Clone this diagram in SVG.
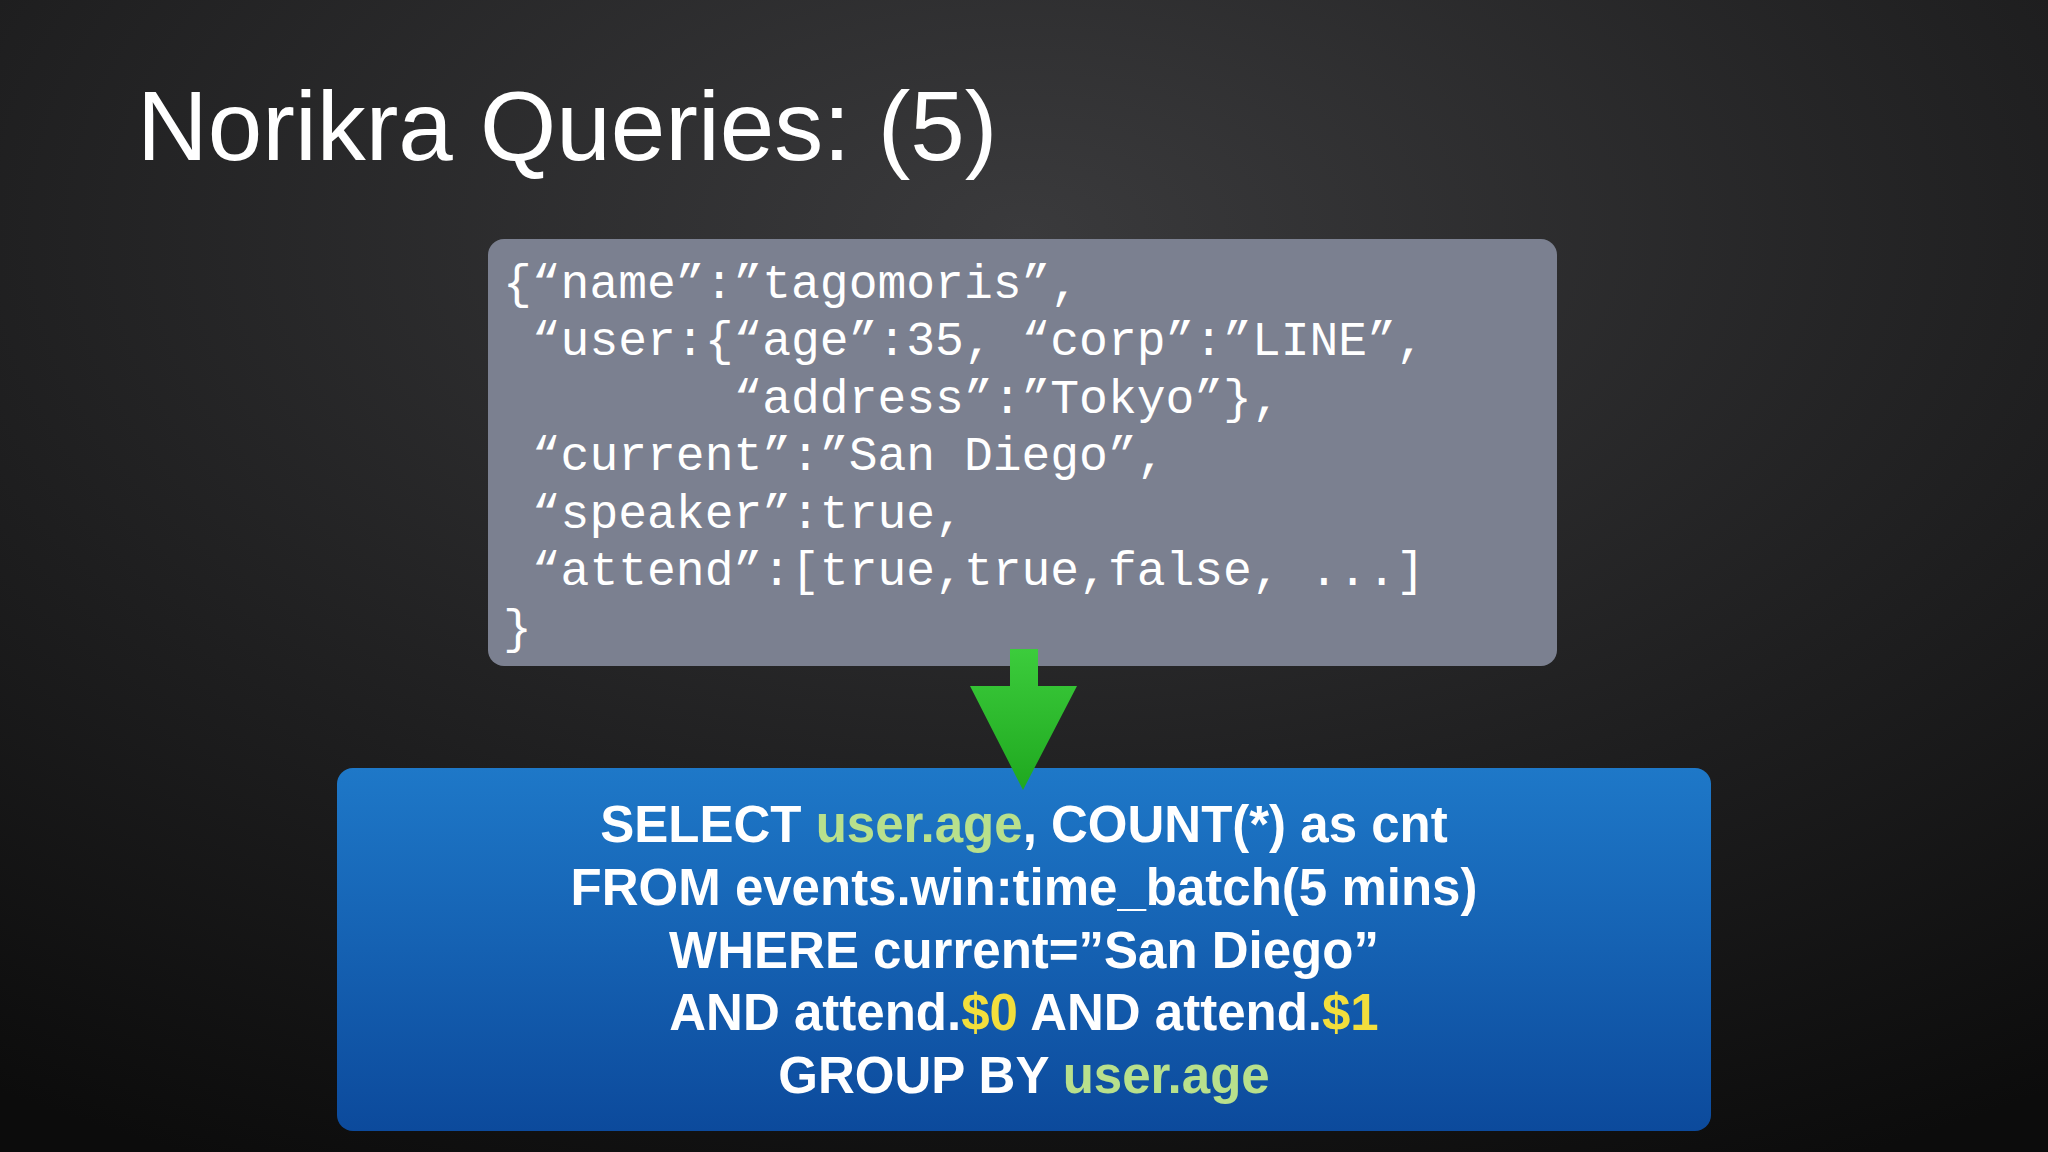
<svg xmlns="http://www.w3.org/2000/svg" width="2048" height="1152" viewBox="0 0 2048 1152">
<defs>
<radialGradient id="bg" cx="0.5" cy="0.2" r="0.9">
<stop offset="0" stop-color="#3a3a3c"/><stop offset="0.6" stop-color="#1e1e1f"/><stop offset="1" stop-color="#0c0c0c"/>
</radialGradient>
<linearGradient id="blue" x1="0" y1="0" x2="0" y2="1">
<stop offset="0" stop-color="#1e78c8"/><stop offset="1" stop-color="#0c4a9c"/>
</linearGradient>
<linearGradient id="green" x1="0" y1="0" x2="0" y2="1">
<stop offset="0" stop-color="#3ccc3c"/><stop offset="1" stop-color="#1fa81f"/>
</linearGradient>
<style>
.title{font-family:"Liberation Sans",Arial,sans-serif;font-size:98px;fill:#fff}
.code{font-family:"Liberation Mono","Courier New",monospace;font-size:48px;fill:#fff;white-space:pre}
.sql{font-family:"Liberation Sans",Arial,sans-serif;font-weight:bold;font-size:51px;fill:#fff;text-anchor:middle}
.g{fill:#b8e08c}.y{fill:#f2de3c}
</style>
</defs>
<rect width="2048" height="1152" fill="url(#bg)"/>
<text class="title" x="137" y="160">Norikra Queries: (5)</text>
<g id="json">
<rect x="488" y="239" width="1069" height="427" rx="16" fill="#7b8090"/>
<text class="code" x="503" y="298" xml:space="preserve">{“name”:”tagomoris”,</text>
<text class="code" x="503" y="355" xml:space="preserve"> “user:{“age”:35, “corp”:”LINE”,</text>
<text class="code" x="503" y="413" xml:space="preserve">        “address”:”Tokyo”},</text>
<text class="code" x="503" y="470" xml:space="preserve"> “current”:”San Diego”,</text>
<text class="code" x="503" y="528" xml:space="preserve"> “speaker”:true,</text>
<text class="code" x="503" y="585" xml:space="preserve"> “attend”:[true,true,false, ...]</text>
<text class="code" x="503" y="643" xml:space="preserve">}</text>
</g>
<g id="query">
<rect x="337" y="768" width="1374" height="363" rx="16" fill="url(#blue)"/>
<text class="sql" x="1024" y="842">SELECT <tspan class="g">user.age</tspan>, COUNT(*) as cnt</text>
<text class="sql" x="1024" y="905">FROM events.win:time_batch(5 mins)</text>
<text class="sql" x="1024" y="968">WHERE current=”San Diego”</text>
<text class="sql" x="1024" y="1030">AND attend.<tspan class="y">$0</tspan> AND attend.<tspan class="y">$1</tspan></text>
<text class="sql" x="1024" y="1093">GROUP BY <tspan class="g">user.age</tspan></text>
</g>
<g id="connectors">
<polygon points="1010,649 1038,649 1038,686 1077,686 1023,790 970,686 1010,686" fill="url(#green)"/>
</g>
</svg>
